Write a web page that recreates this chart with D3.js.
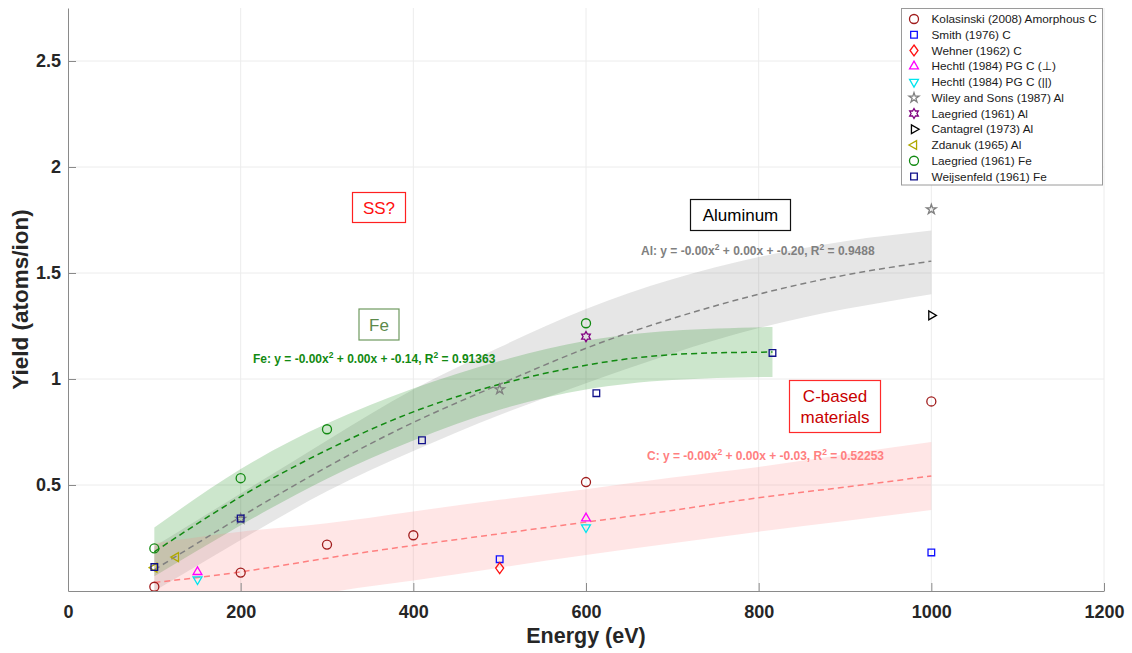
<!DOCTYPE html>
<html>
<head>
<meta charset="utf-8">
<script src="https://cdn.jsdelivr.net/npm/d3@7"></script>
<style>
  body { margin: 0; background: #fff; }
  svg text { font-family: "Liberation Sans", Arial, "DejaVu Sans", sans-serif; }
</style>
</head>
<body>
<svg id="chart" width="1132" height="653"></svg>
<script>
const xTicks = [0, 200, 400, 600, 800, 1000, 1200];
const yTicks = [0.5, 1, 1.5, 2, 2.5];

// measured points: [energy (eV), yield (atoms/ion)]
const kolasinskiC = [[100, 0.02], [200, 0.087], [300, 0.219], [400, 0.263], [600, 0.514], [1000, 0.894]];
const smithC = [[500, 0.15], [1000, 0.182]];
const wehnerC = [[500, 0.108]];
const hechtlPerp = [[150, 0.09], [600, 0.343]];
const hechtlPar = [[150, 0.055], [600, 0.30]];
const wileyAl = [[200, 0.34], [500, 0.951], [1000, 1.80]];
const laegriedAl = [[600, 1.20]];
const cantagrelAl = [[1000, 1.30]];
const zdanukAl = [[100, 0.11], [125, 0.16]];
const laegriedFe = [[100, 0.201], [200, 0.532], [300, 0.763], [600, 1.263]];
const weijsenfeldFe = [[100, 0.113], [200, 0.342], [410, 0.711], [612, 0.933], [816, 1.123]];

// fitted curves + confidence bands
const fitEnergyAl = [100, 200, 300, 400, 500, 600, 700, 800, 900, 1000];
const fitAl = [0.10, 0.35, 0.585, 0.795, 0.975, 1.145, 1.285, 1.40, 1.49, 1.556];
const fitAlLow = [0.0, 0.24, 0.47, 0.66, 0.83, 0.98, 1.12, 1.24, 1.33, 1.40];
const fitAlHigh = [0.21, 0.46, 0.71, 0.95, 1.15, 1.33, 1.47, 1.575, 1.65, 1.70];

const fitEnergyFe = [100, 200, 300, 400, 500, 600, 700, 816];
const fitFe = [0.185, 0.445, 0.665, 0.845, 0.975, 1.065, 1.115, 1.127];
const fitFeLow = [0.07, 0.31, 0.53, 0.71, 0.855, 0.95, 0.995, 1.01];
const fitFeHigh = [0.30, 0.575, 0.79, 0.955, 1.085, 1.18, 1.228, 1.245];

const fitEnergyC = [100, 200, 300, 400, 500, 600, 700, 800, 900, 1000];
const fitC = [0.04, 0.09, 0.155, 0.215, 0.27, 0.325, 0.38, 0.44, 0.49, 0.543];
const fitCLow = [-0.15, -0.10, -0.01, 0.05, 0.11, 0.17, 0.225, 0.28, 0.33, 0.382];
const fitCHigh = [0.225, 0.28, 0.32, 0.375, 0.43, 0.48, 0.535, 0.585, 0.645, 0.703];

const series = [
    { name: "Kolasinski (2008) Amorphous C", points: kolasinskiC, marker: "circle", color: "#a01c1c" },
    { name: "Smith (1976) C", points: smithC, marker: "square", color: "#1010ff" },
    { name: "Wehner (1962) C", points: wehnerC, marker: "diamond", color: "#ff1010" },
    { name: "Hechtl (1984) PG C (\u22A5)", points: hechtlPerp, marker: "triUp", color: "#ff00ff" },
    { name: "Hechtl (1984) PG C (||)", points: hechtlPar, marker: "triDown", color: "#00e5ee" },
    { name: "Wiley and Sons (1987) Al", points: wileyAl, marker: "star", color: "#808080" },
    { name: "Laegried (1961) Al", points: laegriedAl, marker: "hexagram", color: "#800080" },
    { name: "Cantagrel (1973) Al", points: cantagrelAl, marker: "triRight", color: "#000000" },
    { name: "Zdanuk (1965) Al", points: zdanukAl, marker: "triLeft", color: "#b0a800" },
    { name: "Laegried (1961) Fe", points: laegriedFe, marker: "circle", color: "#128a12" },
    { name: "Weijsenfeld (1961) Fe", points: weijsenfeldFe, marker: "square", color: "#10108a" }
];

const fits = [
    { energy: fitEnergyAl, mid: fitAl, low: fitAlLow, high: fitAlHigh, line: "#808080", band: "rgba(128,128,128,0.2)" },
    { energy: fitEnergyFe, mid: fitFe, low: fitFeLow, high: fitFeHigh, line: "#128a12", band: "rgba(0,128,0,0.2)" },
    { energy: fitEnergyC, mid: fitC, low: fitCLow, high: fitCHigh, line: "#ff8080", band: "rgba(255,128,128,0.2)" }
];

const margin = { top: 8, right: 28, bottom: 62, left: 68 };
const width = 1132;
const height = 653;

const svg = d3.select("#chart");

const x = d3.scaleLinear().domain([0, 1200]).range([margin.left, width - margin.right]);
const y = d3.scaleLinear().domain([0, 2.75]).range([height - margin.bottom, margin.top]);

function markerPath(kind) {
    switch (kind) {
        case "circle":
            return d3.symbol(d3.symbolCircle, 64)();
        case "square":
            return d3.symbol(d3.symbolSquare, 44)();
        case "diamond":
            return "M0,-5.5L4,0L0,5.5L-4,0Z";
        case "triUp":
        case "triDown":
        case "triLeft":
        case "triRight":
            return d3.symbol(d3.symbolTriangle, 34)();
        case "star":
            return d3.symbol(d3.symbolStar, 30)();
        case "hexagram": {
            const pts = d3.range(12).map(i => {
                const a = -Math.PI / 2 + i * Math.PI / 6;
                const r = i % 2 === 0 ? 5 : 2.9;
                return [r * Math.cos(a), r * Math.sin(a)];
            });
            return "M" + pts.join("L") + "Z";
        }
        default:
            return d3.symbol(d3.symbolCircle, 64)();
    }
}

function markerRotation(kind) {
    switch (kind) {
        case "triDown": return 180;
        case "triLeft": return -90;
        case "triRight": return 90;
        default: return 0;
    }
}

// grid
const grid = svg.append("g");
grid.selectAll(".gx").data(xTicks.slice(1)).enter().append("line")
    .attr("x1", d => x(d)).attr("x2", d => x(d))
    .attr("y1", y(0)).attr("y2", y(2.75))
    .attr("stroke", "#ececec").attr("stroke-width", 1);
grid.selectAll(".gy").data(yTicks).enter().append("line")
    .attr("x1", x(0)).attr("x2", x(1200))
    .attr("y1", d => y(d)).attr("y2", d => y(d))
    .attr("stroke", "#ececec").attr("stroke-width", 1);

svg.append("clipPath").attr("id", "plotClip")
    .append("rect")
    .attr("x", x(0)).attr("y", y(2.75))
    .attr("width", x(1200) - x(0)).attr("height", y(0) - y(2.75));

const plot = svg.append("g").attr("clip-path", "url(#plotClip)");

// bands then dashed fit lines
fits.forEach(f => {
    const rows = f.energy.map((e, i) => ({ e: e, low: f.low[i], high: f.high[i] }));
    plot.append("path")
        .datum(rows)
        .attr("fill", f.band)
        .attr("d", d3.area().x(d => x(d.e)).y0(d => y(d.low)).y1(d => y(d.high)).curve(d3.curveNatural));
});
fits.forEach(f => {
    const rows = f.energy.map((e, i) => ({ e: e, mid: f.mid[i] }));
    plot.append("path")
        .datum(rows)
        .attr("fill", "none")
        .attr("stroke", f.line)
        .attr("stroke-width", 1.5)
        .attr("stroke-dasharray", "6,4")
        .attr("d", d3.line().x(d => x(d.e)).y(d => y(d.mid)).curve(d3.curveNatural));
});

// axes (ticks pointing inward)
const styleAxis = g => g
    .call(g => g.selectAll(".domain, line").attr("stroke", "#8a8a8a"))
    .call(g => g.selectAll("text")
        .attr("font-size", 18).attr("font-weight", "bold").attr("fill", "#262626")
        .attr("font-family", "'Liberation Sans', Arial, sans-serif"));

svg.append("g")
    .attr("transform", `translate(0,${y(0)})`)
    .call(d3.axisBottom(x).tickValues(xTicks).tickSizeInner(-8).tickSizeOuter(0).tickPadding(14)
        .tickFormat(d3.format("d")))
    .call(styleAxis);

svg.append("g")
    .attr("transform", `translate(${x(0)},0)`)
    .call(d3.axisLeft(y).tickValues(yTicks).tickSizeInner(-8).tickSizeOuter(0).tickPadding(7)
        .tickFormat(d3.format("")))
    .call(styleAxis);

svg.append("text")
    .attr("x", (x(0) + x(1200)) / 2).attr("y", 643)
    .attr("text-anchor", "middle")
    .attr("font-size", 21.5).attr("font-weight", "bold").attr("fill", "#262626")
    .text("Energy (eV)");

svg.append("text")
    .attr("transform", `translate(28,${(y(0) + y(2.75)) / 2}) rotate(-90)`)
    .attr("text-anchor", "middle")
    .attr("font-size", 22.5).attr("font-weight", "bold").attr("fill", "#262626")
    .text("Yield (atoms/ion)");

// data markers
series.forEach(s => {
    plot.append("g").selectAll("path")
        .data(s.points)
        .enter().append("path")
        .attr("d", markerPath(s.marker))
        .attr("transform", d => `translate(${x(d[0])},${y(d[1])}) rotate(${markerRotation(s.marker)})`)
        .attr("fill", "none")
        .attr("stroke", s.color)
        .attr("stroke-width", 1.3);
});

// fit equations
function addEquation(px, py, color, parts) {
    const t = svg.append("text")
        .attr("x", px).attr("y", py)
        .attr("font-size", 12).attr("font-weight", "bold").attr("fill", color);
    let shift = 0;
    parts.forEach(p => {
        if (typeof p === "string") {
            t.append("tspan").attr("dy", shift).text(p);
            shift = 0;
        } else {
            t.append("tspan").attr("font-size", 8.5).attr("dy", -5).text(p.sup);
            shift = 5;
        }
    });
}
addEquation(253, 363, "#128a12", ["Fe: y = -0.00x", { sup: "2" }, " + 0.00x + -0.14, R", { sup: "2" }, " = 0.91363"]);
addEquation(641, 255, "#808080", ["Al: y = -0.00x", { sup: "2" }, " + 0.00x + -0.20, R", { sup: "2" }, " = 0.9488"]);
addEquation(647, 460, "#ff8080", ["C: y = -0.00x", { sup: "2" }, " + 0.00x + -0.03, R", { sup: "2" }, " = 0.52253"]);

// boxed labels
function addBox(bx, by, bw, bh, stroke, textColor, lines) {
    svg.append("rect")
        .attr("x", bx).attr("y", by).attr("width", bw).attr("height", bh)
        .attr("fill", "#fff").attr("stroke", stroke).attr("stroke-width", 1.2);
    const t = svg.append("text")
        .attr("text-anchor", "middle")
        .attr("font-size", 17).attr("fill", textColor);
    const lh = 21.5;
    const top = by + bh / 2 - (lines.length - 1) * lh / 2 + 6;
    lines.forEach((l, i) => {
        t.append("tspan").attr("x", bx + bw / 2).attr("y", top + i * lh).text(l);
    });
}
addBox(352.5, 192.5, 53, 30, "#ff2020", "#ff1010", ["SS?"]);
addBox(359, 309, 40, 31, "#6f9a5f", "#5c8a4c", ["Fe"]);
addBox(690.5, 199.5, 100, 31, "#111", "#000", ["Aluminum"]);
addBox(789.5, 380.5, 91, 52, "#ff2a2a", "#c80000", ["C-based", "materials"]);

// legend
const legend = svg.append("g");
legend.append("rect")
    .attr("x", 901.5).attr("y", 8.5).attr("width", 201).attr("height", 176.5)
    .attr("fill", "#fff").attr("stroke", "#9a9a9a").attr("stroke-width", 1);
const rows = legend.selectAll("g.row").data(series).enter().append("g")
    .attr("transform", (d, i) => `translate(0,${19 + i * 15.75})`);
rows.append("path")
    .attr("d", d => markerPath(d.marker))
    .attr("transform", d => `translate(914,0) rotate(${markerRotation(d.marker)})`)
    .attr("fill", "none")
    .attr("stroke", d => d.color)
    .attr("stroke-width", 1.3);
rows.append("text")
    .attr("x", 931.5).attr("y", 4.2)
    .attr("font-size", 11.8).attr("fill", "#1a1a1a")
    .text(d => d.name);
</script>
</body>
</html>
